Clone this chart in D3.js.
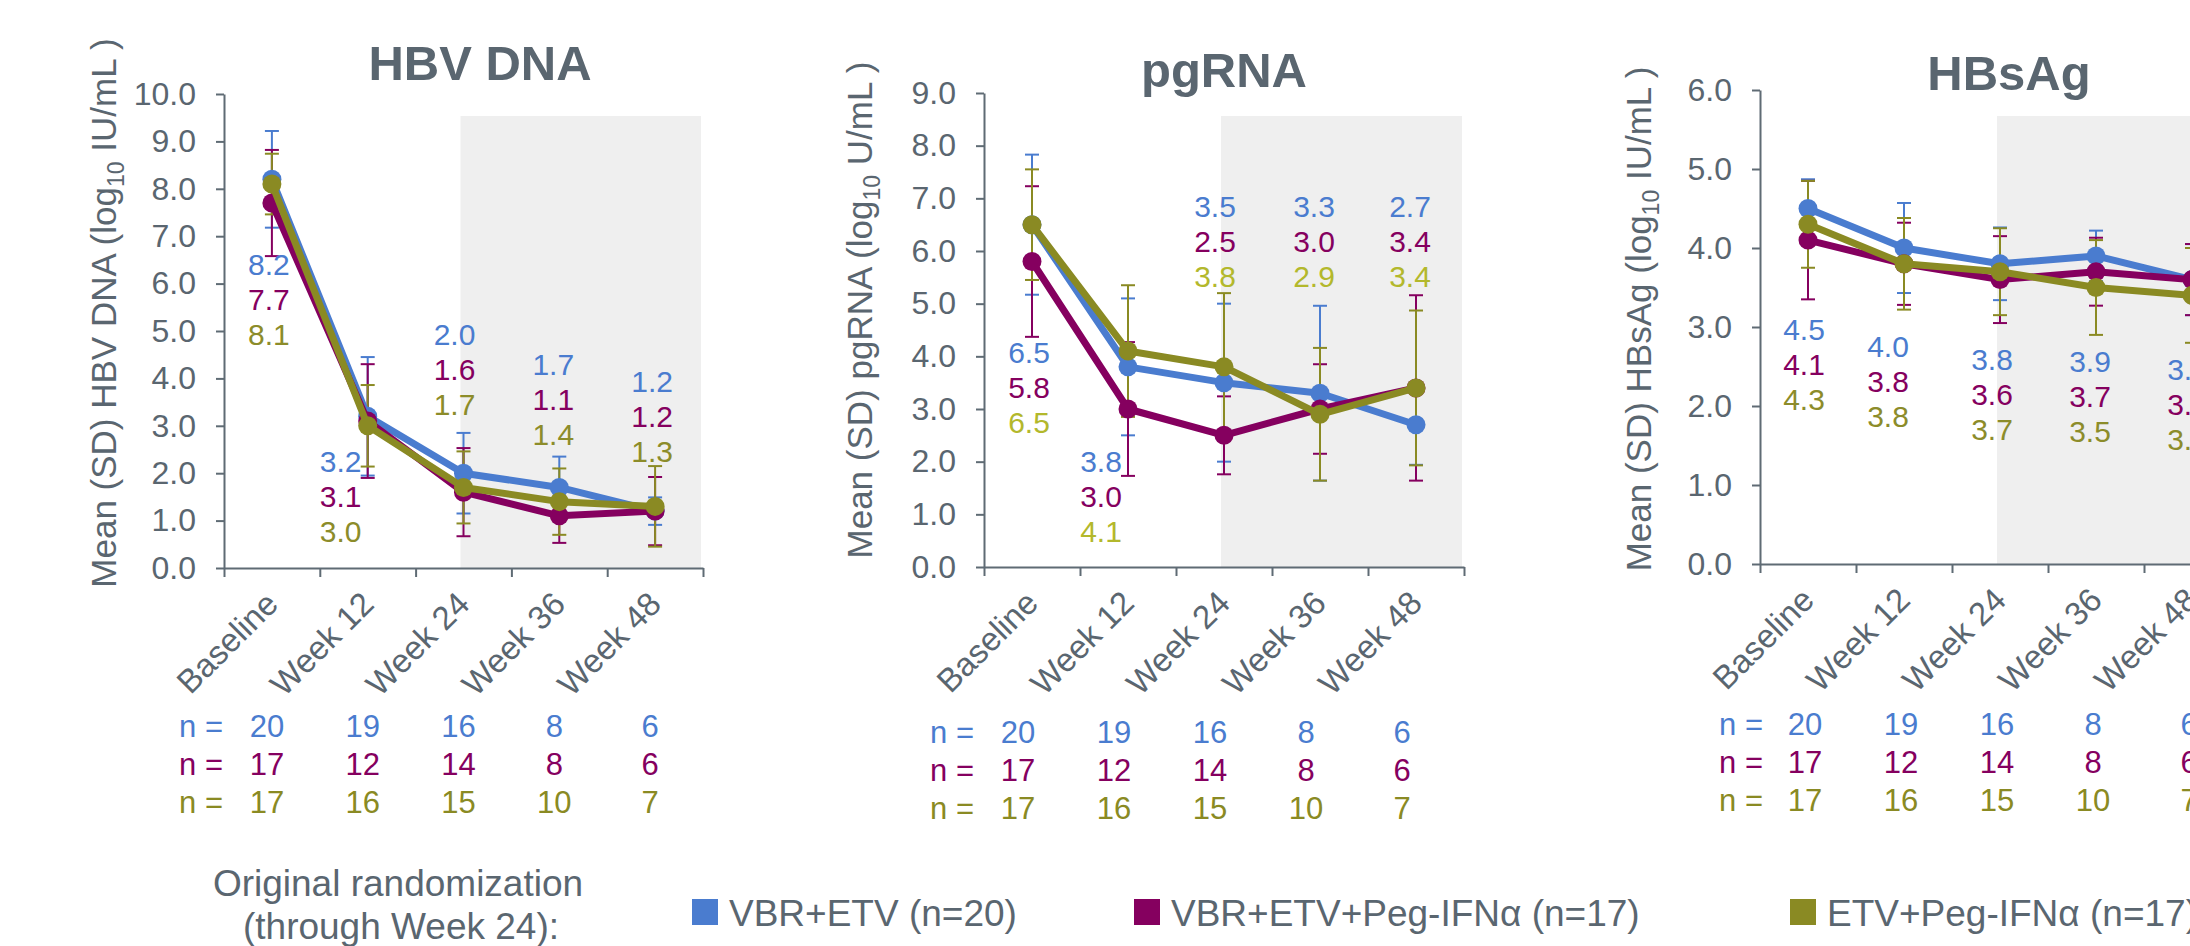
<!DOCTYPE html>
<html>
<head>
<meta charset="utf-8">
<script src="https://cdn.jsdelivr.net/npm/d3@7"></script>
<style>
  body { margin: 0; background: #fff; }
  text { font-family: "Liberation Sans", Arial, sans-serif; }
</style>
</head>
<body>
<script>
// categories
const weekLabels = ["Baseline", "Week 12", "Week 24", "Week 36", "Week 48"];
const groupNames = ["VBR+ETV (n=20)", "VBR+ETV+Peg-IFNα (n=17)", "ETV+Peg-IFNα (n=17)"];

// patients per visit
const nVbrEtv = [20, 19, 16, 8, 6];
const nVbrEtvPeg = [17, 12, 14, 8, 6];
const nEtvPeg = [17, 16, 15, 10, 7];

// HBV DNA, mean and SD (log10 IU/mL)
const dnaVbrEtv = [8.2, 3.2, 2.0, 1.7, 1.2];
const dnaVbrEtvSd = [1.02, 1.25, 0.85, 0.65, 0.29];
const dnaVbrEtvPeg = [7.7, 3.1, 1.6, 1.1, 1.2];
const dnaVbrEtvPegSd = [1.12, 1.2, 0.93, 0.57, 0.72];
const dnaEtvPeg = [8.1, 3.0, 1.7, 1.4, 1.3];
const dnaEtvPegSd = [0.64, 0.86, 0.76, 0.7, 0.85];

// pgRNA, mean and SD (log10 U/mL)
const pgVbrEtv = [6.5, 3.8, 3.5, 3.3, 2.7];
const pgVbrEtvSd = [1.33, 1.3, 1.5, 1.66, 0.76];
const pgVbrEtvPeg = [5.8, 3.0, 2.5, 3.0, 3.4];
const pgVbrEtvPegSd = [1.43, 1.27, 0.74, 0.85, 1.76];
const pgEtvPeg = [6.5, 4.1, 3.8, 2.9, 3.4];
const pgEtvPegSd = [1.05, 1.25, 1.4, 1.26, 1.47];

// HBsAg, mean and SD (log10 IU/mL)
const sagVbrEtv = [4.5, 4.0, 3.8, 3.9, 3.6];
const sagVbrEtvSd = [0.37, 0.57, 0.46, 0.32, 0.45];
const sagVbrEtvPeg = [4.1, 3.8, 3.6, 3.7, 3.6];
const sagVbrEtvPegSd = [0.75, 0.52, 0.55, 0.43, 0.45];
const sagEtvPeg = [4.3, 3.8, 3.7, 3.5, 3.4];
const sagEtvPegSd = [0.55, 0.58, 0.55, 0.6, 0.6];

const nRows = [nVbrEtv, nVbrEtvPeg, nEtvPeg];

// styles
const colors = ["#4a7ccf", "#85005f", "#8a8a23"];
const grey = "#5a6670";
const axisGrey = "#5f6b74";
const font = "'Liberation Sans', Arial, sans-serif";

// panel layout
let panels = [
    {
        title: "HBV DNA", yName: "HBV DNA", unit: " IU/mL )", yMax: 10,
        means: [dnaVbrEtv, dnaVbrEtvPeg, dnaEtvPeg], sds: [dnaVbrEtvSd, dnaVbrEtvPegSd, dnaEtvPegSd],
        x0: 224, x1: 703, y0: 568, yTop: 94,
        titleX: 480, titleY: 80, yTitleX: 116, yTitleY: 313,
        labDx: [-3, -27, -9, -6, -3], labY: [275, 472, 345, 375, 392],
        nX: 223, nDx: -5, nY: 737, oliveLab: "#8c8c2a"
    },
    {
        title: "pgRNA", yName: "pgRNA", unit: " U/mL )", yMax: 9,
        means: [pgVbrEtv, pgVbrEtvPeg, pgEtvPeg], sds: [pgVbrEtvSd, pgVbrEtvPegSd, pgEtvPegSd],
        x0: 984, x1: 1464, y0: 567, yTop: 93,
        titleX: 1224, titleY: 87, yTitleX: 872, yTitleY: 310,
        labDx: [-3, -27, -9, -6, -6], labY: [363, 472, 217, 217, 217],
        nX: 974, nDx: -14, nY: 743, oliveLab: "#b3b82c"
    },
    {
        title: "HBsAg", yName: "HBsAg", unit: " IU/mL )", yMax: 6,
        means: [sagVbrEtv, sagVbrEtvPeg, sagEtvPeg], sds: [sagVbrEtvSd, sagVbrEtvPegSd, sagEtvPegSd],
        x0: 1760, x1: 2240, y0: 564, yTop: 90,
        titleX: 2009, titleY: 90, yTitleX: 1651, yTitleY: 319,
        labDx: [-4, -16, -8, -6, -4], labY: [340, 357, 370, 372, 380],
        nX: 1763, nDx: -3, nY: 735, oliveLab: "#8c8c2a"
    }
];

let svg = d3.select("body").append("svg")
    .attr("width", 2190)
    .attr("height", 946)
    .style("display", "block");

function drawPanel(p) {
    let g = svg.append("g");
    let x = d3.scaleLinear().domain([0, 5]).range([p.x0, p.x1]);
    let y = d3.scaleLinear().domain([0, p.yMax]).range([p.y0, p.yTop]);
    let cx = i => x(i + 0.5);

    //灰色背景 (after week 24)
    let shadeL = cx(2) - 3;
    g.append("rect")
        .attr("x", shadeL)
        .attr("y", 116)
        .attr("width", x(5) - 2 - shadeL)
        .attr("height", p.y0 - 116)
        .attr("fill", "#efefef");

    // y axis
    let yAxis = d3.axisLeft(y)
        .tickValues(d3.range(0, p.yMax + 0.01, 1))
        .tickFormat(d3.format(".1f"))
        .tickSize(8)
        .tickSizeOuter(0)
        .tickPadding(20);
    let ya = g.append("g").attr("transform", `translate(${p.x0},0)`).call(yAxis);

    // x axis, ticks on category borders
    let xAxis = d3.axisBottom(x)
        .tickValues(d3.range(0, 6))
        .tickFormat("")
        .tickSize(9)
        .tickSizeOuter(0);
    let xa = g.append("g").attr("transform", `translate(0,${p.y0})`).call(xAxis);

    [ya, xa].forEach(a => {
        a.select(".domain").attr("stroke", axisGrey).attr("stroke-width", 2);
        a.selectAll(".tick line").attr("stroke", axisGrey).attr("stroke-width", 2);
        a.selectAll("text").attr("fill", grey).attr("font-size", 32).attr("font-family", font);
    });

    // rotated week labels
    g.append("g").selectAll("text").data(weekLabels).enter()
        .append("text")
        .attr("transform", (d, i) => `translate(${cx(i) + 8},${p.y0 + 38}) rotate(-45)`)
        .attr("text-anchor", "end")
        .attr("font-size", 33)
        .attr("fill", grey)
        .text(d => d);

    // error bars
    p.means.forEach((m, gi) => {
        let bars = g.append("g").selectAll("g").data(m).enter().append("g")
            .attr("stroke", colors[gi])
            .attr("stroke-width", 2);
        bars.append("line")
            .attr("x1", (d, i) => cx(i)).attr("x2", (d, i) => cx(i))
            .attr("y1", (d, i) => y(d - p.sds[gi][i]))
            .attr("y2", (d, i) => y(d + p.sds[gi][i]));
        bars.append("line")
            .attr("x1", (d, i) => cx(i) - 7).attr("x2", (d, i) => cx(i) + 7)
            .attr("y1", (d, i) => y(d + p.sds[gi][i])).attr("y2", (d, i) => y(d + p.sds[gi][i]));
        bars.append("line")
            .attr("x1", (d, i) => cx(i) - 7).attr("x2", (d, i) => cx(i) + 7)
            .attr("y1", (d, i) => y(d - p.sds[gi][i])).attr("y2", (d, i) => y(d - p.sds[gi][i]));
    });

    // lines + markers
    let line = d3.line()
        .x((d, i) => cx(i))
        .y(d => y(d));
    p.means.forEach((m, gi) => {
        g.append("path")
            .attr("d", line(m))
            .attr("fill", "none")
            .attr("stroke", colors[gi])
            .attr("stroke-width", 7)
            .attr("stroke-linejoin", "round");
        g.append("g").selectAll("circle").data(m).enter()
            .append("circle")
            .attr("cx", (d, i) => cx(i))
            .attr("cy", d => y(d))
            .attr("r", 9.5)
            .attr("fill", colors[gi]);
    });

    // value labels
    let labColors = [colors[0], colors[1], p.oliveLab];
    p.means.forEach((m, gi) => {
        g.append("g").selectAll("text").data(m).enter()
            .append("text")
            .attr("x", (d, i) => cx(i) + p.labDx[i])
            .attr("y", (d, i) => p.labY[i] + gi * 35)
            .attr("text-anchor", "middle")
            .attr("font-size", 30)
            .attr("fill", labColors[gi])
            .text(d => d3.format(".1f")(d));
    });

    // n = rows
    nRows.forEach((row, gi) => {
        let ry = p.nY + gi * 38;
        g.append("text")
            .attr("x", p.nX).attr("y", ry)
            .attr("text-anchor", "end")
            .attr("font-size", 31)
            .attr("fill", colors[gi])
            .text("n =");
        g.append("g").selectAll("text").data(row).enter()
            .append("text")
            .attr("x", (d, i) => cx(i) + p.nDx)
            .attr("y", ry)
            .attr("text-anchor", "middle")
            .attr("font-size", 31)
            .attr("fill", colors[gi])
            .text(d => d);
    });

    // title
    g.append("text")
        .attr("x", p.titleX).attr("y", p.titleY)
        .attr("text-anchor", "middle")
        .attr("font-size", 49)
        .attr("font-weight", "bold")
        .attr("fill", grey)
        .text(p.title);

    // y axis title with subscript
    let yt = g.append("text")
        .attr("transform", `translate(${p.yTitleX},${p.yTitleY}) rotate(-90)`)
        .attr("text-anchor", "middle")
        .attr("font-size", 35)
        .attr("fill", grey);
    yt.append("tspan").text(`Mean (SD) ${p.yName} (log`);
    yt.append("tspan").attr("font-size", 23).attr("dy", 8).text("10");
    yt.append("tspan").attr("dy", -8).text(p.unit);
}

panels.forEach(drawPanel);

// legend
let legend = svg.append("g").attr("font-size", 37).attr("fill", grey);
legend.append("text").attr("x", 398).attr("y", 896).attr("text-anchor", "middle").text("Original randomization");
legend.append("text").attr("x", 401).attr("y", 939).attr("text-anchor", "middle").text("(through Week 24):");
let legX = [692, 1134, 1790];
groupNames.forEach((name, gi) => {
    legend.append("rect")
        .attr("x", legX[gi]).attr("y", 899)
        .attr("width", 26).attr("height", 26)
        .attr("fill", colors[gi]);
    legend.append("text")
        .attr("x", legX[gi] + 37).attr("y", 926)
        .text(name);
});
</script>
</body>
</html>
